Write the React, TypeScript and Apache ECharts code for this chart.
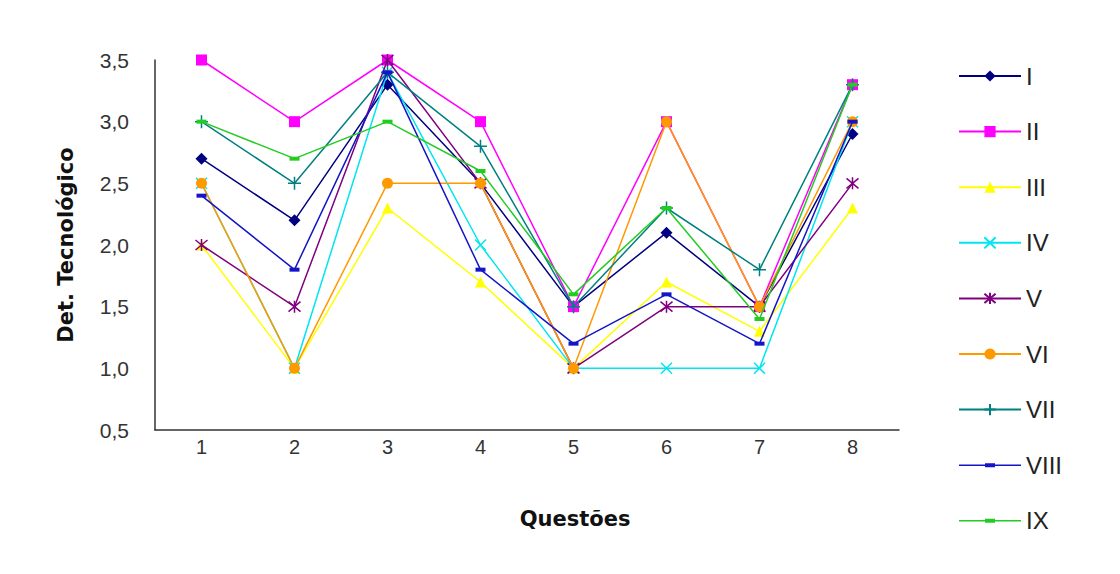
import React, { useEffect, useRef } from "react";
import * as echarts from "echarts";

const categories = ["1", "2", "3", "4", "5", "6", "7", "8"];
const seriesNames = ["I", "II", "III", "IV", "V", "VI", "VII", "VIII", "IX"];
const sI = [2.7, 2.2, 3.3, 2.5, 1.5, 2.1, 1.5, 2.9];
const sII = [3.5, 3.0, 3.5, 3.0, 1.5, 3.0, 1.5, 3.3];
const sIII = [2.0, 1.0, 2.3, 1.7, 1.0, 1.7, 1.3, 2.3];
const sIV = [2.5, 1.0, 3.4, 2.0, 1.0, 1.0, 1.0, 3.0];
const sV = [2.0, 1.5, 3.5, 2.5, 1.0, 1.5, 1.5, 2.5];
const sVI = [2.5, 1.0, 2.5, 2.5, 1.0, 3.0, 1.5, 3.0];
const sVII = [3.0, 2.5, 3.4, 2.8, 1.5, 2.3, 1.8, 3.3];
const sVIII = [2.4, 1.8, 3.4, 1.8, 1.2, 1.6, 1.2, 3.0];
const sIX = [3.0, 2.7, 3.0, 2.6, 1.6, 2.3, 1.4, 3.3];
const seriesData = [sI, sII, sIII, sIV, sV, sVI, sVII, sVIII, sIX];
const colors = ["#000080", "#ff00ff", "#ffff00", "#00e5f0", "#800080", "#ff9900", "#008080", "#1515c8", "#22cc22"];

const X_PATH = "path://M0,0L10,10M10,0L0,10";
const AST_PATH = "path://M0,0L10,10M10,0L0,10M5,-1L5,11";
const PLUS_PATH = "path://M5,0L5,10M0,5L10,5";
// legend icon: line with a small dash marker, bounding box 62x14
const DASH_LEGEND = "path://M0,0M62,14M0,6.25L62,6.25L62,7.75L0,7.75ZM26,5L36,5L36,9L26,9Z";

const symbols: any[] = ["diamond", "rect", "triangle", X_PATH, AST_PATH, "circle", PLUS_PATH, "rect", "rect"];
const symbolSizes: any[] = [12, 11, 11, 11, 12, 11, 13, [10, 4], [10, 4]];

export default function App() {
  const ref = useRef<HTMLDivElement>(null);
  useEffect(() => {
    document.body.style.margin = "0";
    const chart = echarts.init(ref.current!, null, { renderer: "svg" });
    const font = "'Liberation Sans', Arial, sans-serif";
    const titleFont = "'DejaVu Sans', Verdana, sans-serif";
    chart.setOption({
      animation: false,
      backgroundColor: "#ffffff",
      textStyle: { fontFamily: font },
      grid: { left: 155, top: 60, right: 221, bottom: 144 },
      legend: {
        orient: "vertical",
        left: 953,
        top: 59,
        itemWidth: 62,
        itemHeight: 14,
        itemGap: 31.6,
        data: seriesNames.map((n, i) => (i >= 7 ? { name: n, icon: DASH_LEGEND } : { name: n })),
        textStyle: { fontSize: 24, color: "#222", fontFamily: font, lineHeight: 22 },
      },
      xAxis: {
        type: "category",
        data: categories,
        boundaryGap: true,
        name: "Questões",
        nameLocation: "middle",
        nameGap: 78,
        nameTextStyle: {
          fontSize: 21,
          fontWeight: "bold",
          color: "#111",
          fontFamily: titleFont,
          padding: [0, 0, 0, 96],
        },
        axisLine: { lineStyle: { color: "#333", width: 1.5 } },
        axisTick: { show: false },
        axisLabel: { fontSize: 20, color: "#333", margin: 7 },
        splitLine: { show: false },
      },
      yAxis: {
        type: "value",
        min: 0.5,
        max: 3.5,
        interval: 0.5,
        name: "Det. Tecnológico",
        nameLocation: "middle",
        nameGap: 79,
        nameTextStyle: { fontSize: 21, fontWeight: "bold", color: "#111", fontFamily: titleFont },
        axisLine: { show: true, lineStyle: { color: "#333", width: 1.5 } },
        axisTick: { show: false },
        axisLabel: {
          fontSize: 21,
          color: "#333",
          margin: 26,
          formatter: (v: number) => v.toFixed(1).replace(".", ","),
        },
        splitLine: { show: false },
      },
      series: seriesNames.map((name, i) => ({
        name,
        type: "line",
        data: seriesData[i],
        symbol: symbols[i],
        symbolSize: symbolSizes[i],
        showAllSymbol: true,
        lineStyle: { color: colors[i], width: 1.5 },
        itemStyle: {
          color: colors[i],
          borderColor: colors[i],
          borderWidth: i === 3 || i === 4 || i === 6 ? 1.5 : 0,
        },
        z: 2 + i,
      })),
    });
    return () => chart.dispose();
  }, []);
  return <div ref={ref} style={{ width: 1120, height: 574 }} />;
}
